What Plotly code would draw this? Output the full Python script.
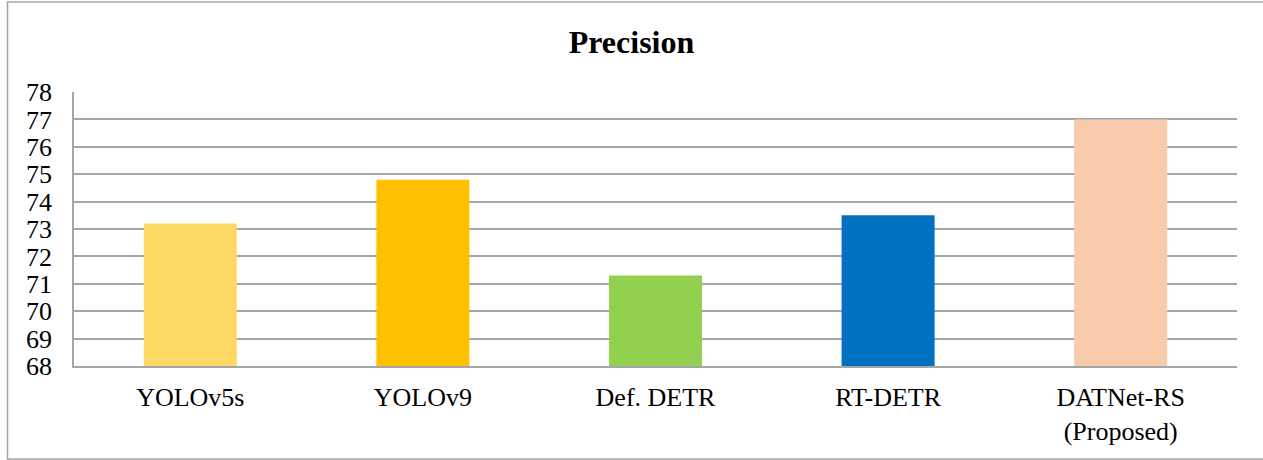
import plotly.graph_objects as go

# Precision of each detector
models = ["YOLOv5s", "YOLOv9", "Def. DETR", "RT-DETR", "DATNet-RS<br>(Proposed)"]
precision = [73.2, 74.8, 71.3, 73.5, 77.0]
bar_colors = ["#FFD966", "#FFC000", "#92D050", "#0070C0", "#F8CBAD"]
y_ticks = list(range(68, 79))

W, H = 1263, 460
M_L, M_R, M_T, M_B = 74, 26, 92, 94
plot_w = W - M_L - M_R
plot_h = H - M_T - M_B

fig = go.Figure(
    go.Bar(
        x=models,
        y=precision,
        marker=dict(color=bar_colors, line=dict(width=0)),
        hoverinfo="x+y",
    )
)

font_family = "Liberation Serif, Times New Roman, serif"

fig.update_layout(
    width=W,
    height=H,
    margin=dict(l=M_L, r=M_R, t=M_T, b=M_B, pad=0),
    paper_bgcolor="white",
    plot_bgcolor="white",
    bargap=0.6,
    showlegend=False,
    font=dict(family=font_family, color="black"),
    title=dict(
        text="<b>Precision</b>",
        x=0.5,
        xanchor="center",
        y=1 - 42 / H,
        yanchor="middle",
        font=dict(size=32, family=font_family, color="black"),
    ),
    xaxis=dict(
        showgrid=False,
        showline=True,
        linecolor="#A6A6A6",
        linewidth=1.5,
        ticks="",
        tickfont=dict(size=26),
        ticklabelstandoff=7,
    ),
    yaxis=dict(
        range=[68, 78],
        tickvals=y_ticks,
        showgrid=True,
        gridcolor="#A6A6A6",
        gridwidth=1.5,
        showline=True,
        linecolor="#A6A6A6",
        linewidth=1.5,
        mirror=False,
        zeroline=False,
        ticks="",
        tickfont=dict(size=26),
        ticklabelstandoff=15,
    ),
)

# chart frame
fig.add_shape(
    type="rect",
    xref="paper",
    yref="paper",
    x0=(7.5 - M_L) / plot_w,
    x1=(W + 3 - M_L) / plot_w,
    y0=-(459 - (H - M_B)) / plot_h,
    y1=((H - M_B) - 2) / plot_h,
    line=dict(color="#A6A6A6", width=1.5),
    fillcolor="rgba(0,0,0,0)",
    layer="below",
)

fig.write_html("out.html")
